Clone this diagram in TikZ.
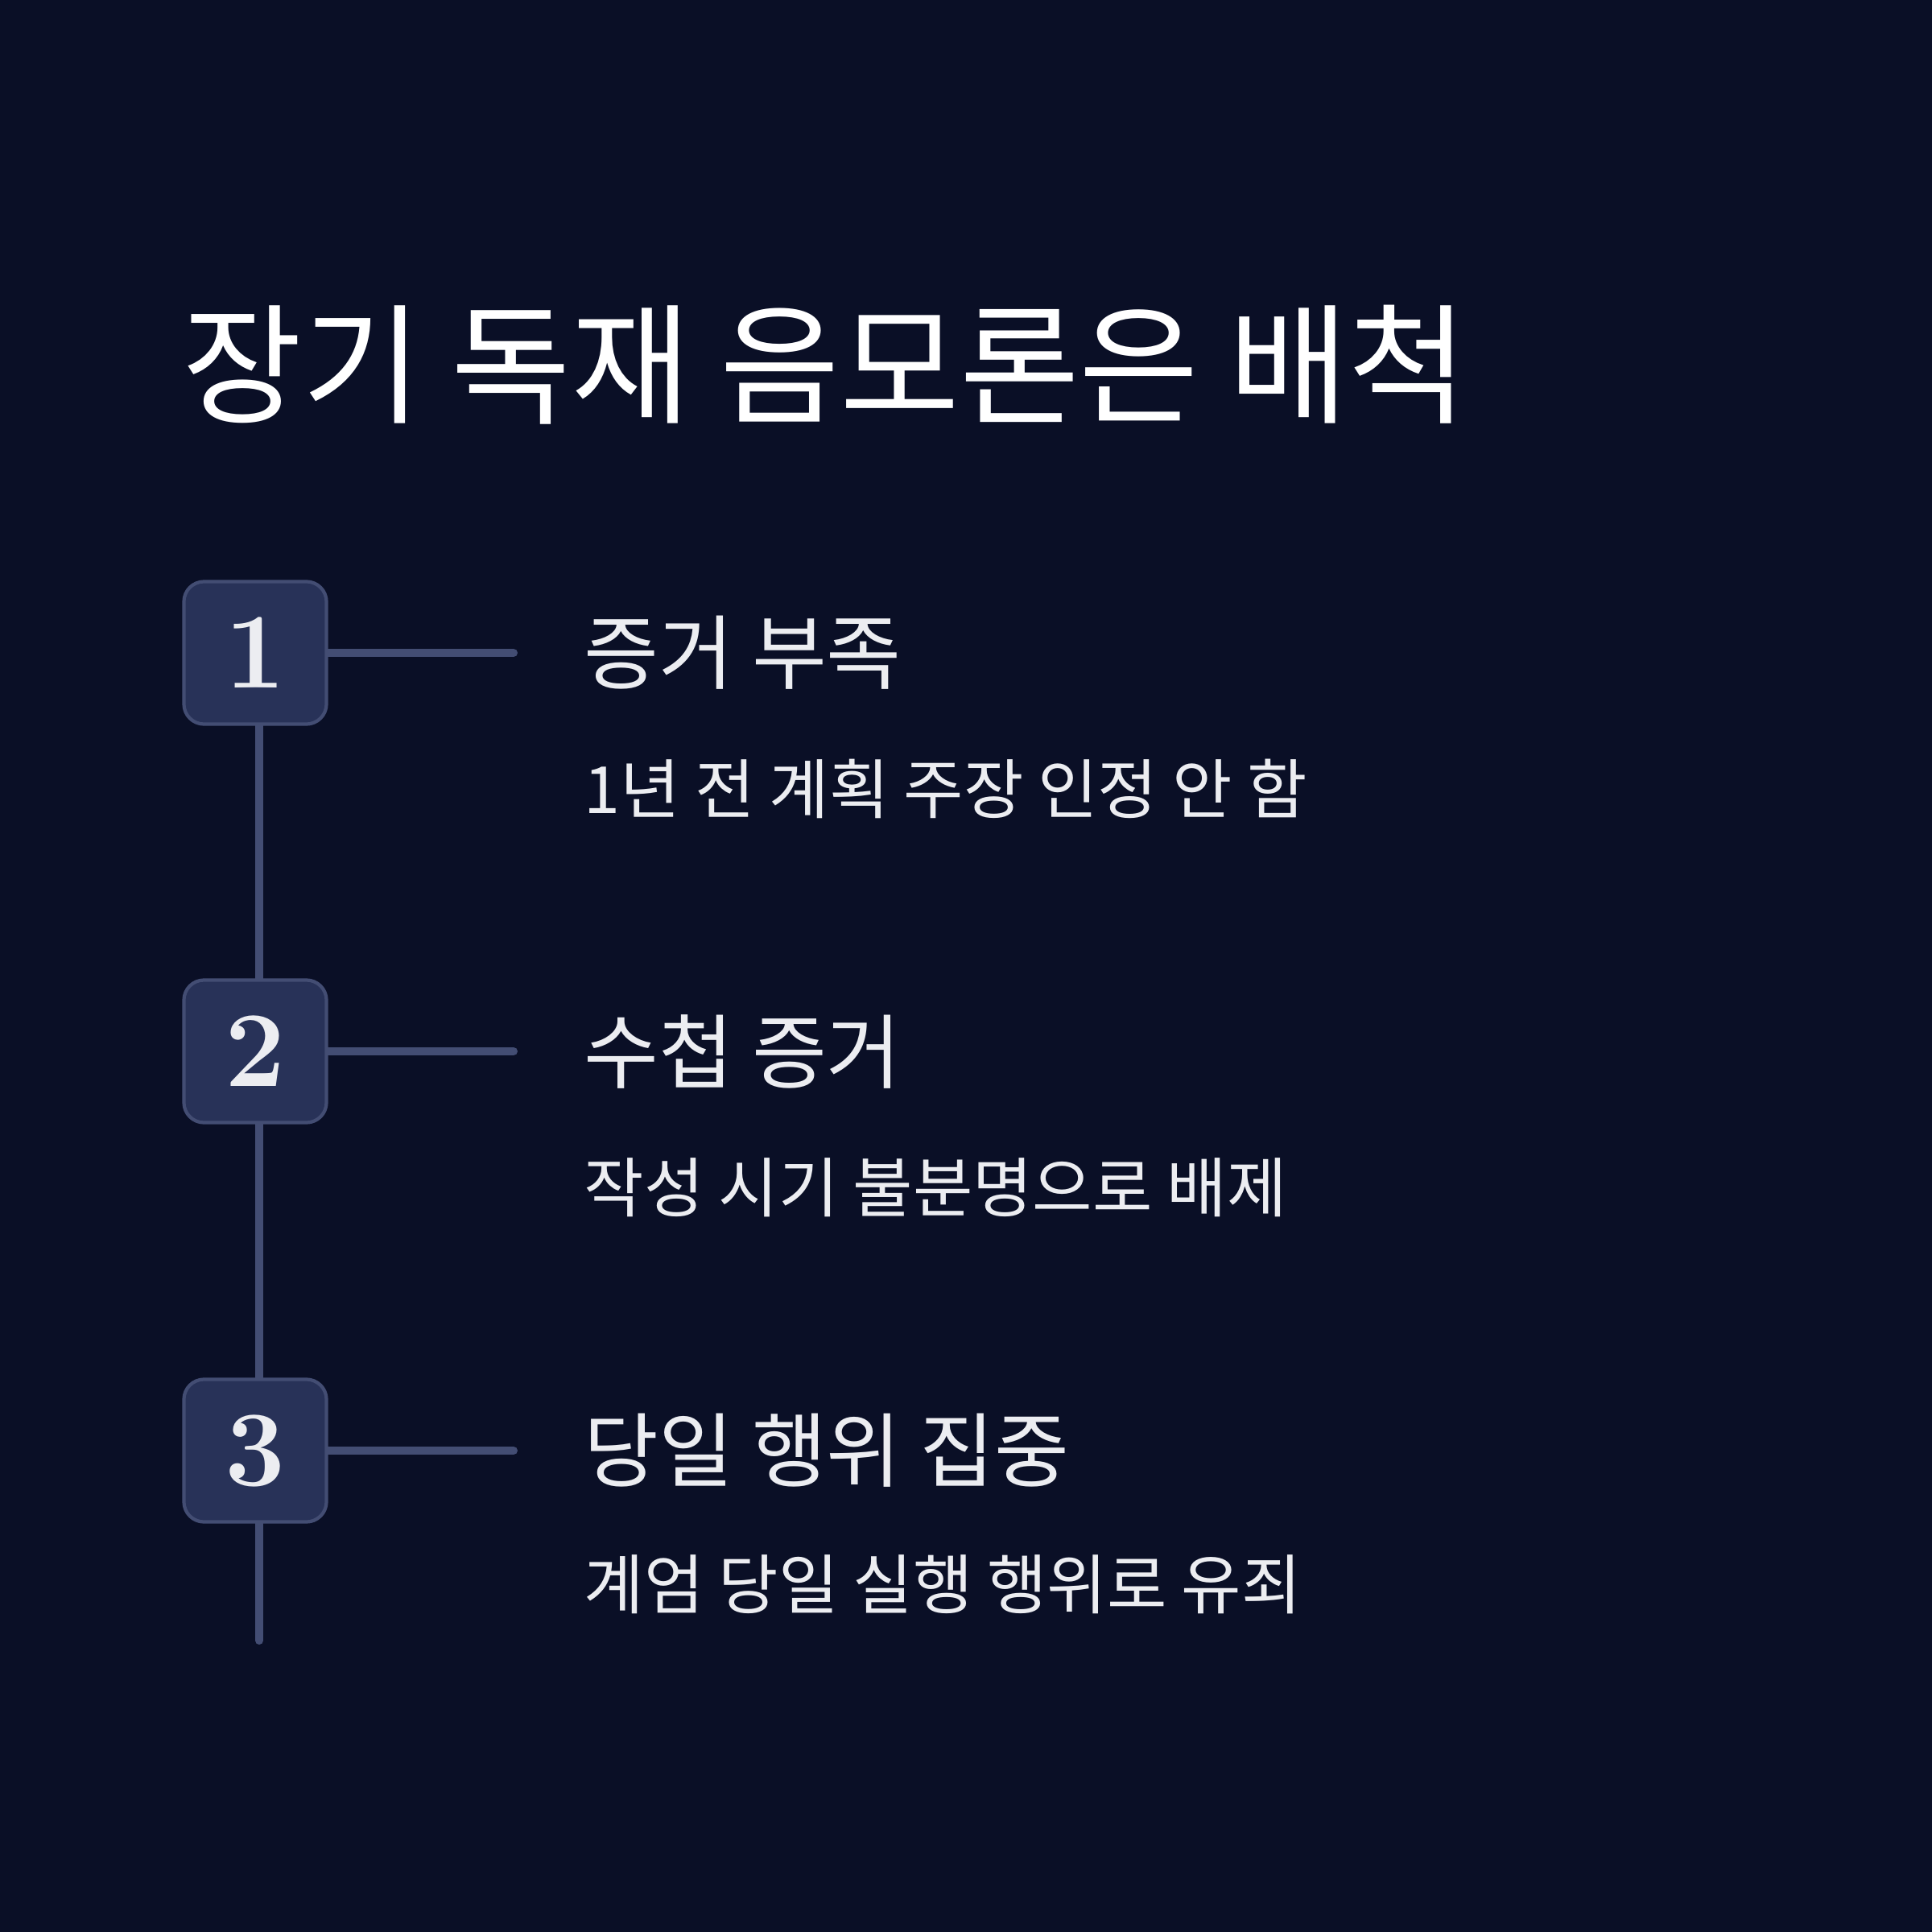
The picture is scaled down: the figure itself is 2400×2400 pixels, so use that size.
\documentclass[tikz,border=0pt]{standalone}
\usepackage{fontspec}
\newfontfamily\krfont{Noto Sans CJK KR}
\usetikzlibrary{positioning}
\definecolor{bgnavy}{HTML}{0A0F26}
\definecolor{boxfill}{HTML}{283258}
\definecolor{boxline}{HTML}{434D73}
\definecolor{softwhite}{HTML}{ECEDF1}
\pgfdeclarelayer{backdrop}
\pgfdeclarelayer{rails}
\pgfsetlayers{backdrop,rails,main}
\tikzset{
    stepbox/.style={draw=boxline,line width=1.2pt,fill=boxfill,rounded corners=0.25cm,
        minimum size=1.77cm,inner sep=0pt,text=softwhite,font=\fontsize{38}{38}\selectfont\bfseries},
    rail/.style={draw=boxline,line width=2.85pt,line cap=round},
    headtext/.style={anchor=west,inner sep=0pt,text=softwhite,font=\krfont\fontsize{28.7}{28.7}\selectfont},
    subtext/.style={anchor=west,inner sep=0pt,text=softwhite,font=\krfont\fontsize{23}{23}\selectfont},
}

\begin{document}
\begin{tikzpicture}[x=0.01cm,y=-0.01cm]
\begin{pgfonlayer}{backdrop}
\fill[bgnavy] (0,0) rectangle (2400,2400);
\end{pgfonlayer}
\useasboundingbox (0,0) rectangle (2400,2400);
% title
\node[anchor=west,inner sep=0pt,text=white,font=\krfont\fontsize{46}{46}\selectfont] (title) at (226,453) {장기 독재 음모론은 배척};
% steps
\node[stepbox] (box1) at (317,811) {1};
\node[stepbox] (box2) at (317,1306) {2};
\node[stepbox] (box3) at (317,1802) {3};
\coordinate (end1) at (638,811);
\coordinate (end2) at (638,1306);
\coordinate (end3) at (638,1802);
\coordinate (railend) at (322,2038);
\node[headtext] (head1) at (725,811) {증거 부족};
\node[subtext] (sub1) at (725,980) {1년 전 계획 주장 인정 안 함};
\node[headtext] (head2) at (725,1306) {수첩 증거};
\node[subtext] (sub2) at (725,1475) {작성 시기 불분명으로 배제};
\node[headtext] (head3) at (725,1802) {당일 행위 집중};
\node[subtext] (sub3) at (725,1968) {계엄 당일 실행 행위로 유죄};
% connectors, behind the boxes
\begin{pgfonlayer}{rails}
\draw[rail] (box1.south -| railend) -- (box2.north -| railend);
\draw[rail] (box2.south -| railend) -- (box3.north -| railend);
\draw[rail] (box3.south -| railend) -- (railend);
\draw[rail] (box1.east) -- (end1);
\draw[rail] (box2.east) -- (end2);
\draw[rail] (box3.east) -- (end3);
\end{pgfonlayer}
\end{tikzpicture}
\end{document}
